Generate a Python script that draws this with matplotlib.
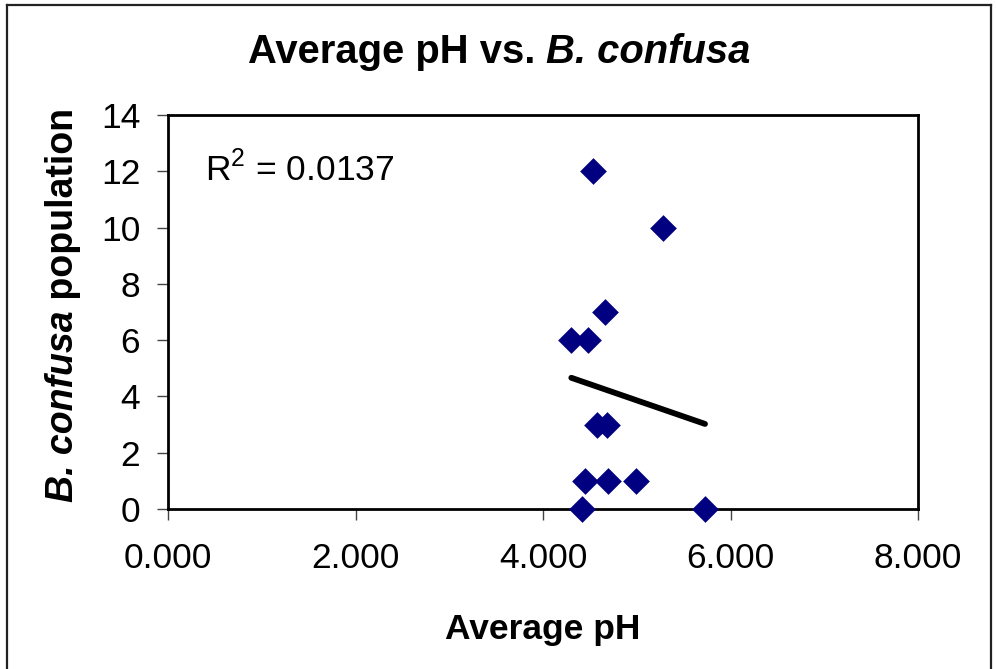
import numpy as np
import matplotlib
matplotlib.use("Agg")
import matplotlib.pyplot as plt
from matplotlib.lines import Line2D

plt.rcParams['font.family'] = ['Liberation Sans', 'DejaVu Sans']
plt.rcParams['mathtext.fontset'] = 'custom'
plt.rcParams['mathtext.rm'] = 'Liberation Sans'

# Data
avg_ph = [4.537, 5.283, 4.665, 4.302, 4.484, 4.572, 4.679, 4.448, 4.690, 4.992, 4.420, 5.728]
population = [12, 10, 7, 6, 6, 3, 3, 1, 1, 1, 0, 0]
x_ticks = [0, 2, 4, 6, 8]
x_tick_labels = ["0.000", "2.000", "4.000", "6.000", "8.000"]
y_ticks = [0, 2, 4, 6, 8, 10, 12, 14]
r2_label = "R$^{2}$ = 0.0137"
title_parts = [("Average pH vs. ", "normal"), ("B. confusa", "italic")]
ylabel_parts = [("B. confusa", "italic"), (" population", "normal")]
xlabel = "Average pH"

W, H = 996, 669
fig = plt.figure(figsize=(W / 100, H / 100), dpi=100)
ax = fig.add_axes([168 / W, (H - 509) / H, 750 / W, 394 / H])

x = np.array(avg_ph)
y = np.array(population)
ax.scatter(x, y, marker='D', s=185, color='#000080', zorder=5, clip_on=False, linewidths=0)

slope, intercept = np.polyfit(x, y, 1)
xl = np.array([x.min(), x.max()])
ax.plot(xl, slope * xl + intercept, color='black', lw=4.2, solid_capstyle='round', zorder=4)

ax.set_xlim(0, 8)
ax.set_ylim(0, 14)
ax.set_xticks(x_ticks)
ax.set_xticklabels(x_tick_labels)
ax.set_yticks(y_ticks)
for s in ax.spines.values():
    s.set_linewidth(2.0)
    s.set_color('black')
ax.tick_params(axis='both', direction='out', length=8, width=1, color='#444444',
               labelsize=25.5, colors='black')
ax.tick_params(axis='x', pad=16)
ax.tick_params(axis='y', pad=12)
for t in ax.get_xticklabels() + ax.get_yticklabels():
    t.set_color('black')

fig.text(205 / W, (H - 181) / H, r2_label, fontsize=25.5, va='baseline')

renderer = fig.canvas.get_renderer()


def rich_text(parts, cx, cy, size, vertical=False):
    """Place bold text pieces (normal / italic) centred at pixel (cx, cy)."""
    arts = []
    widths = []
    for s, st in parts:
        t = fig.text(0, 0, s, fontsize=size, fontweight='bold', fontstyle=st,
                     ha='left', va='center', rotation=90 if vertical else 0,
                     rotation_mode='anchor')
        bb = t.get_window_extent(renderer)
        widths.append(bb.height if vertical else bb.width)
        arts.append(t)
    total = sum(widths)
    pos = (cy - total / 2) if vertical else (cx - total / 2)
    for t, w in zip(arts, widths):
        if vertical:
            t.set_position((cx / W, pos / H))
        else:
            t.set_position((pos / W, cy / H))
        pos += w


rich_text(title_parts, 499, H - 52, 28.8)
rich_text(ylabel_parts, 63, H - 305, 27, vertical=True)
fig.text(543 / W, (H - 629) / H, xlabel, ha='center', va='center',
         fontsize=25.5, fontweight='bold')

# outer chart border (left, top, right)
bx0, by0, bx1 = 7 / W, 1 - 5 / H, 991 / W
fig.add_artist(Line2D([bx0, bx0], [0, by0], transform=fig.transFigure, color='#222222', lw=1.6))
fig.add_artist(Line2D([bx0, bx1], [by0, by0], transform=fig.transFigure, color='#222222', lw=1.6))
fig.add_artist(Line2D([bx1, bx1], [0, by0], transform=fig.transFigure, color='#222222', lw=1.6))

fig.savefig("out.png", dpi=100)
